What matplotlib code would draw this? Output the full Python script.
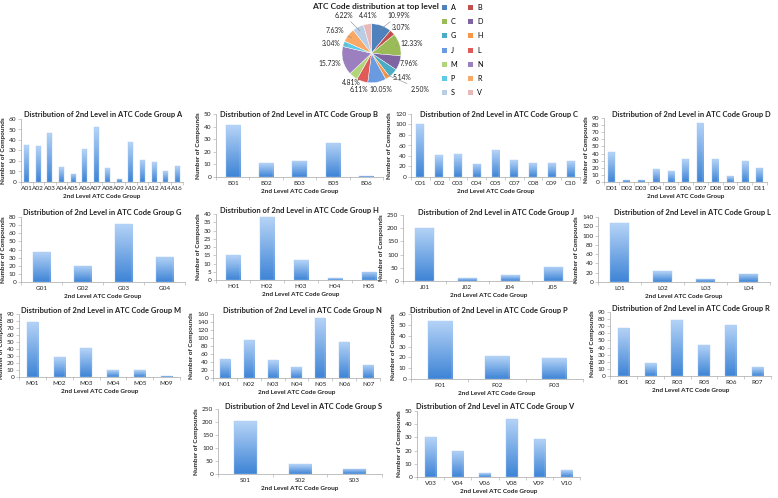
import numpy as np
import matplotlib
matplotlib.use("Agg")
import matplotlib.pyplot as plt
from matplotlib.colors import LinearSegmentedColormap
from matplotlib.patches import Patch

plt.rcParams['font.family'] = ['Lato', 'DejaVu Sans']

# top level shares (pie)
top_groups = ["A", "B", "C", "D", "G", "H", "J", "L", "M", "N", "P", "R", "S", "V"]
top_shares = [10.99, 3.07, 12.33, 7.96, 5.14, 2.50, 10.05, 6.11, 4.81, 15.73, 3.04, 7.63, 6.22, 4.41]
top_colors = ["#4F81BD", "#C0504D", "#9BBB59", "#8064A2", "#4BACC6", "#F79646",
              "#6A9BE0", "#E05A57", "#B3D57A", "#9B7FBF", "#5ECBE6", "#F9A865",
              "#B9CDE5", "#E6B9B8"]

# 2nd level counts per group
a_codes = ["A01", "A02", "A03", "A04", "A05", "A06", "A07", "A08", "A09", "A10", "A11", "A12", "A14", "A16"]
a_counts = [35, 34, 47, 14, 8, 31, 52, 13, 3, 38, 21, 19, 10, 15]
b_codes = ["B01", "B02", "B03", "B05", "B06"]
b_counts = [41, 11, 13, 27, 1]
c_codes = ["C01", "C02", "C03", "C04", "C05", "C07", "C08", "C09", "C10"]
c_counts = [101, 41, 43, 25, 51, 32, 26, 26, 30]
d_codes = ["D01", "D02", "D03", "D04", "D05", "D06", "D07", "D08", "D09", "D10", "D11"]
d_counts = [42, 3, 3, 18, 15, 32, 83, 32, 8, 29, 20]
g_codes = ["G01", "G02", "G03", "G04"]
g_counts = [37, 20, 72, 31]
h_codes = ["H01", "H02", "H03", "H04", "H05"]
h_counts = [15, 38, 12, 1, 5]
j_codes = ["J01", "J02", "J04", "J05"]
j_counts = [202, 10, 21, 54]
l_codes = ["L01", "L02", "L03", "L04"]
l_counts = [127, 23, 7, 18]
m_codes = ["M01", "M02", "M03", "M04", "M05", "M09"]
m_counts = [79, 28, 41, 10, 10, 2]
n_codes = ["N01", "N02", "N03", "N04", "N05", "N06", "N07"]
n_counts = [48, 95, 44, 27, 151, 91, 33]
p_codes = ["P01", "P02", "P03"]
p_counts = [54, 21, 19]
r_codes = ["R01", "R02", "R03", "R05", "R06", "R07"]
r_counts = [68, 18, 79, 44, 72, 12]
s_codes = ["S01", "S02", "S03"]
s_counts = [203, 37, 20]
v_codes = ["V03", "V04", "V06", "V08", "V09", "V10"]
v_counts = [30, 20, 3, 44, 29, 5]

groups = {"A": (a_codes, a_counts), "B": (b_codes, b_counts), "C": (c_codes, c_counts),
          "D": (d_codes, d_counts), "G": (g_codes, g_counts), "H": (h_codes, h_counts),
          "J": (j_codes, j_counts), "L": (l_codes, l_counts), "M": (m_codes, m_counts),
          "N": (n_codes, n_counts), "P": (p_codes, p_counts), "R": (r_codes, r_counts),
          "S": (s_codes, s_counts), "V": (v_codes, v_counts)}

# layout in pixels: left, top, right, bottom, ymax, ystep, title x, title y
W, H = 778, 498
layout = {
    "A": (21, 119, 183, 182, 60, 10, 103, 115),
    "B": (216, 114, 383, 177, 50, 10, 299, 114),
    "C": (411, 114, 580, 177, 120, 20, 499, 114),
    "D": (604, 118, 767, 182, 90, 10, 691, 114),
    "G": (21, 217, 185, 282, 80, 10, 102, 213),
    "H": (216, 214, 386, 280, 40, 5, 299, 211),
    "J": (403, 215, 575, 281, 250, 50, 496, 213),
    "L": (598, 217, 770, 282, 140, 20, 692, 213),
    "M": (19, 314, 180, 377, 90, 10, 101, 310),
    "N": (213, 314, 380, 378, 160, 20, 302, 310),
    "P": (411, 314, 583, 379, 60, 10, 489, 310),
    "R": (610, 312, 771, 376, 90, 10, 691, 308),
    "S": (218, 409, 382, 474, 250, 50, 304, 407),
    "V": (417, 411, 580, 477, 50, 10, 495, 407),
}

# where the percentage labels of the pie sit (pixel centres, from top-left)
pie_label_px = [(399, 15), (401, 27), (412, 43), (409, 63), (402, 77), (420, 89), (381, 89),
                (359, 89), (351, 82), (330, 63), (331, 43), (335, 30), (344, 15), (368, 15)]

bar_cmap = LinearSegmentedColormap.from_list("bar", ["#3E84D6", "#B6D4F7"])
grad = np.linspace(0, 1, 128).reshape(-1, 1)
txt = "#222222"

fig = plt.figure(figsize=(W / 100, H / 100), dpi=100)
fig.patch.set_facecolor("white")


def px_axes(left, top, right, bottom):
    return fig.add_axes([left / W, 1 - bottom / H, (right - left) / W, (bottom - top) / H])


for key, (codes, counts) in groups.items():
    left, top, right, bottom, ymax, step, tx, ty = layout[key]
    ax = px_axes(left, top, right, bottom)
    xs = np.arange(len(codes))
    bars = ax.bar(xs, counts, width=0.42, color="none", edgecolor="#A9CAF2", linewidth=0.3, zorder=3)
    for b in bars:
        x0, y0 = b.get_xy()
        im = ax.imshow(grad, extent=[x0, x0 + b.get_width(), y0, y0 + b.get_height()],
                       origin="lower", cmap=bar_cmap, aspect="auto", zorder=2)
        im.set_clip_path(b)
    ax.set_xlim(-0.5, len(codes) - 0.5)
    ax.set_ylim(0, ymax)
    ax.set_yticks(np.arange(0, ymax + 1, step))
    ax.set_xticks(xs)
    ax.set_xticklabels(codes)
    ax.set_xticks(np.arange(-0.5, len(codes)), minor=True)
    for s in ["top", "right"]:
        ax.spines[s].set_visible(False)
    ax.spines["left"].set_color("#A6A6A6")
    ax.spines["bottom"].set_color("#A6A6A6")
    ax.spines["left"].set_linewidth(0.5)
    ax.spines["bottom"].set_linewidth(0.5)
    ax.tick_params(axis="y", length=2, width=0.4, pad=1.5, labelsize=4.6, color="#A6A6A6", labelcolor=txt)
    ax.tick_params(axis="x", which="major", length=0, pad=3, labelsize=4.6, labelcolor=txt)
    ax.tick_params(axis="x", which="minor", length=2, width=0.4, color="#A6A6A6")
    ax.set_xlabel("2nd Level ATC Code Group", fontsize=4.6, fontweight="bold", labelpad=2, color=txt)
    ax.set_ylabel("Number of Compounds", fontsize=4.6, fontweight="bold", labelpad=2, color=txt)
    fig.text(tx / W, 1 - ty / H, "Distribution of 2nd Level in ATC Code Group " + key,
             ha="center", va="center", fontsize=5.4, fontweight="bold", color=txt)

# pie of top level
pcx, pcy, pr = 371.5, 53.3, 29.5
pax = px_axes(pcx - pr, pcy - pr, pcx + pr, pcy + pr)
wedges, _ = pax.pie(top_shares, colors=top_colors, startangle=90, counterclock=False,
                    wedgeprops=dict(edgecolor="white", linewidth=0.3))
pax.set_xlim(-1, 1)
pax.set_ylim(-1, 1)
pax.set_aspect("equal")
for w, v, (lx, ly) in zip(wedges, top_shares, pie_label_px):
    mid = np.deg2rad((w.theta1 + w.theta2) / 2)
    dist = np.hypot(lx - pcx, ly - pcy) / pr
    arrow = dict(arrowstyle="-", color="#8C8C8C", lw=0.4, shrinkA=0.5, shrinkB=0) if dist > 1.35 else None
    pax.annotate("%.2f%%" % v, xy=(0.85 * np.cos(mid), 0.85 * np.sin(mid)),
                 xytext=(lx, H - ly), textcoords="figure pixels", ha="center", va="center",
                 fontsize=4.9, color=txt, arrowprops=arrow, annotation_clip=False)
fig.text(375 / W, 1 - 6 / H, "ATC Code distribution at top level", ha="center", va="center",
         fontsize=6.0, fontweight="bold", color=txt)

order = [0, 2, 4, 6, 8, 10, 12, 1, 3, 5, 7, 9, 11, 13]
handles = [Patch(facecolor=top_colors[i]) for i in order]
names = [top_groups[i] for i in order]
fig.legend(handles, names, ncol=2, loc="upper left", bbox_to_anchor=(442 / W, 1 - 4 / H),
           frameon=False, fontsize=5.2, handlelength=0.7, handleheight=0.7, handletextpad=0.5,
           columnspacing=1.5, labelspacing=1.0, borderaxespad=0, borderpad=0)

fig.savefig("out.png", dpi=100)
